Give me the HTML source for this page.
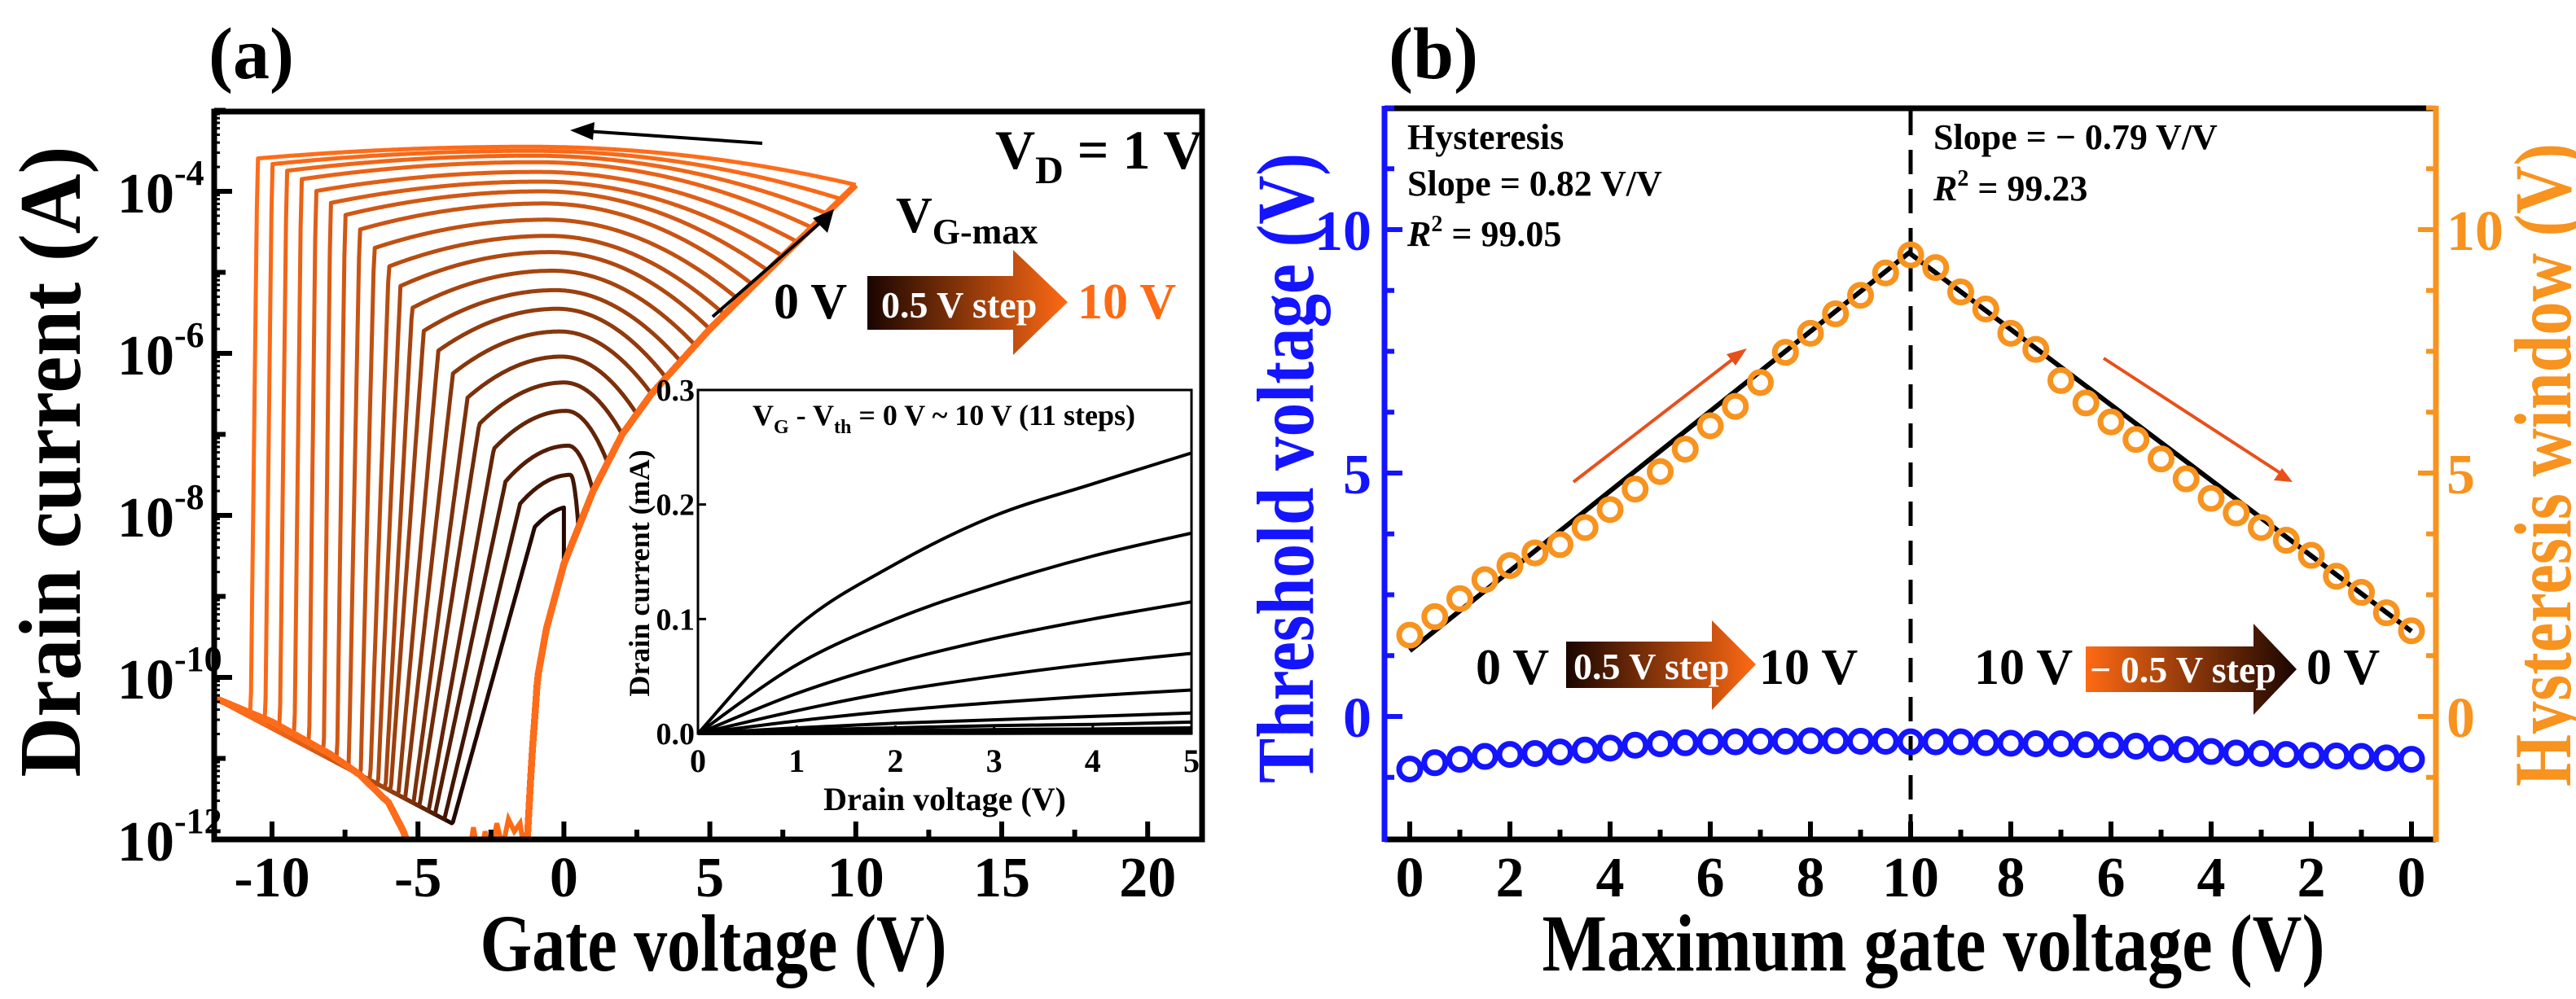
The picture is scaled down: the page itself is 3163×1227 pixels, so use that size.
<!DOCTYPE html>
<html><head><meta charset="utf-8"><style>
html,body{margin:0;padding:0;background:#fff;}
svg{display:block;font-family:"Liberation Serif",serif;font-weight:bold;}
</style></head><body>
<svg id="fig" width="3163" height="1227" viewBox="0 0 3163 1227" xmlns="http://www.w3.org/2000/svg">
<defs>
<clipPath id="clipA"><rect x="263" y="137" width="1213" height="894"/></clipPath>
<linearGradient id="gradUp" x1="0" x2="1" y1="0" y2="0"><stop offset="0" stop-color="#1a0500"/><stop offset="1" stop-color="#ff6a14"/></linearGradient>
<linearGradient id="gradDown" x1="0" x2="1" y1="0" y2="0"><stop offset="0" stop-color="#ff6a14"/><stop offset="1" stop-color="#1a0500"/></linearGradient>
</defs>
<rect width="3163" height="1227" fill="#fff"/>

<text x="256" y="96" font-size="90">(a)</text>
<text x="1705" y="96" font-size="90">(b)</text>

<text transform="translate(98,567) rotate(-90)" text-anchor="middle" font-size="108" textLength="775" lengthAdjust="spacingAndGlyphs">Drain current (A)</text>
<text x="876" y="1192" text-anchor="middle" font-size="100" textLength="573" lengthAdjust="spacingAndGlyphs">Gate voltage (V)</text>

<g id="panelA">
<g id="curvesA" clip-path="url(#clipA)"></g>
<rect x="263" y="137" width="1213" height="894" fill="none" stroke="#000" stroke-width="7"/>
<g id="ticksA"></g>
</g>

<text x="1222" y="207" font-size="68">V<tspan font-size="48" dy="18">D</tspan><tspan dy="-18"> = 1 V</tspan></text>
<line x1="936" y1="176" x2="720" y2="161" stroke="#000" stroke-width="4"/>
<polygon points="700,160 730,150 728,172" fill="#000"/>
<line x1="875" y1="389" x2="1010" y2="271" stroke="#000" stroke-width="4"/>
<polygon points="1024,257 1016,286 998,268" fill="#000"/>
<text x="1100" y="285" font-size="62">V<tspan font-size="44" dy="14">G-max</tspan></text>
<text x="950" y="391" font-size="62">0 V</text>
<polygon points="1065,339 1244,339 1244,307 1311,371 1244,436 1244,405 1065,405" fill="url(#gradUp)"/>
<text x="1082" y="390" font-size="46" fill="#fff">0.5 V step</text>
<text x="1323" y="391" font-size="62" fill="#ff6a14">10 V</text>

<g id="inset">
<rect x="857" y="479" width="606" height="422" fill="#fff" stroke="#000" stroke-width="3"/>
<g id="insetCurves"></g>
<g id="insetTicks"></g>
<text x="924" y="522" font-size="36">V<tspan font-size="24" dy="10">G</tspan><tspan dy="-10"> - V</tspan><tspan font-size="24" dy="10">th</tspan><tspan dy="-10"> = 0 V ~ 10 V (11 steps)</tspan></text>
<text x="1160" y="995" text-anchor="middle" font-size="40">Drain voltage (V)</text>
<text transform="translate(797,704) rotate(-90)" text-anchor="middle" font-size="36">Drain current (mA)</text>
</g>

<text transform="translate(1612,575) rotate(-90)" text-anchor="middle" font-size="100" fill="#1414ff" textLength="774" lengthAdjust="spacingAndGlyphs">Threshold voltage (V)</text>
<text transform="translate(3156,571) rotate(-90)" text-anchor="middle" font-size="100" fill="#f7931e" textLength="790" lengthAdjust="spacingAndGlyphs">Hysteresis window (V)</text>
<text x="2374" y="1192" text-anchor="middle" font-size="100" textLength="961" lengthAdjust="spacingAndGlyphs">Maximum gate voltage (V)</text>

<g id="panelB">
<g id="marksB"></g>
<line x1="1700" y1="133" x2="2991" y2="133" stroke="#000" stroke-width="7"/>
<line x1="1700" y1="1031" x2="2991" y2="1031" stroke="#000" stroke-width="7"/>
<line x1="1700" y1="130" x2="1700" y2="1034" stroke="#1414ff" stroke-width="7"/>
<line x1="2991" y1="130" x2="2991" y2="1034" stroke="#f7931e" stroke-width="7"/>
<g id="ticksB"></g>
</g>

<text x="1728" y="183" font-size="44">Hysteresis</text>
<text x="1728" y="240" font-size="44">Slope = 0.82 V/V</text>
<text x="1728" y="302" font-size="44"><tspan font-style="italic">R</tspan><tspan font-size="28" dy="-18">2</tspan><tspan dy="18"> = 99.05</tspan></text>
<text x="2374" y="183" font-size="44">Slope = − 0.79 V/V</text>
<text x="2374" y="246" font-size="44"><tspan font-style="italic">R</tspan><tspan font-size="28" dy="-18">2</tspan><tspan dy="18"> = 99.23</tspan></text>

<line x1="1932" y1="592" x2="2133" y2="437" stroke="#e8501a" stroke-width="4"/>
<polygon points="2145,428 2131,449 2120,435" fill="#e8501a"/>
<line x1="2583" y1="440" x2="2803" y2="583" stroke="#e8501a" stroke-width="4"/>
<polygon points="2815,592 2792,590 2802,575" fill="#e8501a"/>

<text x="1812" y="840" font-size="62">0 V</text>
<polygon points="1923,788 2102,788 2102,762 2156,816 2102,872 2102,845 1923,845" fill="url(#gradUp)"/>
<text x="1932" y="834" font-size="46" fill="#fff">0.5 V step</text>
<text x="2160" y="840" font-size="62">10 V</text>
<text x="2424" y="840" font-size="62">10 V</text>
<polygon points="2561,794 2767,794 2767,766 2820,822 2767,878 2767,850 2561,850" fill="url(#gradDown)"/>
<text x="2566" y="838" font-size="46" fill="#fff">− 0.5 V step</text>
<text x="2832" y="840" font-size="62">0 V</text>
</svg>

<script>
// ---------- Panel (a) data ----------
const vgMax = [0,0.5,1,1.5,2,2.5,3,3.5,4,4.5,5,5.5,6,6.5,7,7.5,8,8.5,9,9.5,10];
const peakLog = [-7.89,-7.5,-7.14,-6.71,-6.36,-6.04,-5.73,-5.45,-5.22,-4.98,-4.75,-4.55,-4.35,-4.15,-4.0,-3.88,-3.76,-3.64,-3.56,-3.5,-3.45];
const dropV = [-1.0,-1.5,-2.0,-2.4,-2.9,-3.3,-3.8,-4.3,-4.8,-5.2,-5.6,-6.0,-6.5,-7.0,-7.5,-8.0,-8.5,-9.0,-9.5,-10.0,-10.5];
const dropSlope = [1.3,1.5,1.7,2.0,2.3,2.7,3.2,4,5,6.5,8,10,14,18,25,30,30,30,30,30,30];
const fwdV   = [-12,-10,-8,-7,-6,-5.5,-5.1,-1.3,-1.1,-0.9,-0.6,0,1,2,3,5,7.5,10];
const fwdLog = [-10.25,-10.55,-10.95,-11.2,-11.55,-11.9,-12.3,-12.3,-11,-10,-9.4,-8.6,-7.7,-7.0,-6.5,-5.7,-4.8,-3.92];
const noiseV   = [-3.3,-3.1,-2.9,-2.7,-2.5,-2.3,-2.1,-1.9,-1.7,-1.5,-1.3];
const noiseLog = [-12.3,-11.85,-12.3,-11.9,-12.2,-11.8,-12.1,-11.75,-11.9,-11.8,-12.3];
const xTicksA = [-10,-5,0,5,10,15,20];
const yTicksA = [-4,-6,-8,-10,-12];
const insetVd = [0,1,2,3,4,5];
const insetId = [
 [0,0.093,0.148,0.19,0.218,0.245],
 [0,0.06,0.10,0.13,0.155,0.175],
 [0,0.035,0.062,0.083,0.10,0.115],
 [0,0.02,0.037,0.050,0.061,0.07],
 [0,0.011,0.02,0.027,0.033,0.038],
 [0,0.005,0.009,0.012,0.015,0.018],
 [0,0.003,0.005,0.007,0.008,0.01],
 [0,0.0015,0.0025,0.0035,0.004,0.005],
 [0,0.0008,0.0013,0.0017,0.002,0.0024],
 [0,0.0003,0.0005,0.0007,0.0009,0.001],
 [0,0.0001,0.0002,0.0002,0.0003,0.0003]
];
const insetXTicks = [0,1,2,3,4,5];
const insetYTicks = [0,0.1,0.2,0.3];
// ---------- Panel (b) data ----------
const xLabelsB = ["0","2","4","6","8","10","8","6","4","2","0"];
const hysteresis = [1.67,2.05,2.42,2.81,3.1,3.36,3.53,3.88,4.25,4.67,5.03,5.49,5.97,6.37,6.86,7.48,7.87,8.27,8.65,9.11,9.48,
  9.22,8.72,8.37,7.87,7.54,6.9,6.44,6.05,5.69,5.29,4.88,4.48,4.18,3.88,3.62,3.31,2.88,2.55,2.13,1.76];
const threshold = [-1.08,-0.95,-0.88,-0.82,-0.78,-0.76,-0.73,-0.69,-0.65,-0.59,-0.56,-0.54,-0.52,-0.52,-0.51,-0.51,-0.5,-0.5,-0.51,-0.51,-0.52,
  -0.52,-0.52,-0.54,-0.55,-0.56,-0.56,-0.58,-0.59,-0.61,-0.65,-0.68,-0.72,-0.75,-0.76,-0.78,-0.8,-0.81,-0.82,-0.85,-0.88];
const fitUp = [0,1.35,20,9.55];
const fitDown = [20,9.5,40,1.75];
const yTicksB = [0,5,10];

const NS = "http://www.w3.org/2000/svg";
function mk(tag, attrs, parent){ const e=document.createElementNS(NS,tag); for(const k in attrs) e.setAttribute(k,attrs[k]); parent.appendChild(e); return e; }

const xA = v => 334 + (v+10)*35.84;
const yA = lg => 235 - (lg+4)*99.5;
const xI = v => 857 + v*121.2;
const yI = v => 901 - v*1406.7;
const xB = i => 1731 + i*30.75;
const yB = v => 880 - v*59.8;

function interp(xs, ys, x){
  if(x<=xs[0]) return ys[0];
  for(let j=1;j<xs.length;j++){ if(x<=xs[j]){ const t=(x-xs[j-1])/(xs[j]-xs[j-1]); return ys[j-1]+t*(ys[j]-ys[j-1]); } }
  return ys[ys.length-1];
}
function color(i){
  const t=Math.pow(i/20,0.65); const r=Math.round(35+t*(255-35)), g=Math.round(8+t*(108-8)), b=Math.round(0+t*(25));
  return `rgb(${r},${g},${b})`;
}

const gA = document.getElementById('curvesA');
for(let i=0;i<vgMax.length;i++){
  const k=vgMax[i], P=peakLog[i], Vd=dropV[i], S=dropSlope[i];
  const fk=interp(fwdV,fwdLog,k);
  const Vc=0.3-0.15*k, qL=0.15*Math.exp(-0.45*k);
  const dome = V => (V>=Vc && k>Vc) ? P+(fk-P)*Math.pow((V-Vc)/(k-Vc),2) : P-qL*(V-Vc)*(V-Vc);
  const floorL = V => -10.25-0.19*(V+12);
  let pts=[[xA(k),yA(fk)]];
  const dVd=dome(Vd);
  for(let V=k; V>=-12.001; V-=0.04){
    let val = V>=Vd ? dome(V) : dVd - S*(Vd-V);
    val=Math.max(val,floorL(V));
    pts.push([xA(V),yA(val)]);
  }
  const rev=mk('polyline',{points:pts.map(p=>p[0].toFixed(1)+','+p[1].toFixed(1)).join(' '),fill:'none',stroke:color(i),'stroke-width':5,'stroke-linejoin':'round'},gA);
  
  
}
const nz=mk('polyline',{points:noiseV.map((v,j)=>xA(v).toFixed(1)+','+yA(noiseLog[j]).toFixed(1)).join(' '),fill:'none',stroke:'#ff6a14','stroke-width':6},gA);


for(let i=0;i<vgMax.length;i++){
  const k=vgMax[i]; let pts=[];
  for(let V=-12; V<=k+0.001; V+=0.04){ pts.push([xA(V),yA(interp(fwdV,fwdLog,V))]); }
  const fw=mk('polyline',{points:pts.map(p=>p[0].toFixed(1)+','+p[1].toFixed(1)).join(' '),fill:'none',stroke:color(i),'stroke-width':8,'stroke-linejoin':'round'},gA);
  
  
}

const tA=document.getElementById('ticksA');
for(let v=-10; v<=20; v+=2.5){
  const major=(v%5===0);
  const tk=mk('line',{x1:xA(v),x2:xA(v),y1:1031,y2:1031-(major?22:12),stroke:'#000','stroke-width':6},tA);
  
  
}
xTicksA.forEach(v=>{
  const t=mk('text',{x:xA(v),y:1101,'text-anchor':'middle','font-size':70},tA); t.textContent=(v<0?'-':'')+Math.abs(v);
  
  
});
for(let lg=-12; lg<=-3; lg++){
  const tk=mk('line',{x1:263,x2:263+(lg%2===0?22:14),y1:yA(lg),y2:yA(lg),stroke:'#000','stroke-width':6},tA);
  
  
  for(const m of [2,3,4,5,6,7,8,9]){
    const yy=yA(lg+Math.log10(m)); if(yy<140) continue;
    const mt=mk('line',{x1:263,x2:270,y1:yy,y2:yy,stroke:'#000','stroke-width':3},tA);
    
    
  }
}
yTicksA.forEach(lg=>{
  const t=mk('text',{x:214,y:yA(lg)+26,'text-anchor':'end','font-size':70},tA); t.textContent='10';
  
  
  const s=mk('text',{x:214,y:yA(lg)-8,'text-anchor':'start','font-size':44},tA); s.textContent=String(lg);
  
  
});

function smoothPath(pts){
  let d=`M${pts[0][0]},${pts[0][1]}`;
  for(let i=0;i<pts.length-1;i++){
    const p0=pts[Math.max(0,i-1)],p1=pts[i],p2=pts[i+1],p3=pts[Math.min(pts.length-1,i+2)];
    const c1=[p1[0]+(p2[0]-p0[0])/6,p1[1]+(p2[1]-p0[1])/6], c2=[p2[0]-(p3[0]-p1[0])/6,p2[1]-(p3[1]-p1[1])/6];
    d+=` C${c1[0].toFixed(1)},${c1[1].toFixed(1)} ${c2[0].toFixed(1)},${c2[1].toFixed(1)} ${p2[0].toFixed(1)},${p2[1].toFixed(1)}`;
  }
  return d;
}
const gI=document.getElementById('insetCurves');
insetId.forEach(series=>{
  const p=mk('path',{d:smoothPath(insetVd.map((v,j)=>[xI(v),yI(series[j])])),fill:'none',stroke:'#000','stroke-width':4},gI);
  
  
});
const gIT=document.getElementById('insetTicks');
insetXTicks.forEach(v=>{
  const tk=mk('line',{x1:xI(v),x2:xI(v),y1:901,y2:891,stroke:'#000','stroke-width':3},gIT);
  
  
  const t=mk('text',{x:xI(v),y:948,'text-anchor':'middle','font-size':40},gIT); t.textContent=String(v);
  
  
});
insetYTicks.forEach(v=>{
  const tk=mk('line',{x1:857,x2:867,y1:yI(v),y2:yI(v),stroke:'#000','stroke-width':3},gIT);
  
  
  const t=mk('text',{x:853,y:yI(v)+13,'text-anchor':'end','font-size':38},gIT); t.textContent=v.toFixed(1);
  
  
});

const gB=document.getElementById('marksB');
const dl=mk('line',{x1:xB(20),x2:xB(20),y1:136,y2:1028,stroke:'#000','stroke-width':5,'stroke-dasharray':'30,18'},gB);


const f1=mk('line',{x1:xB(fitUp[0]),y1:yB(fitUp[1]),x2:xB(fitUp[2]),y2:yB(fitUp[3]),stroke:'#000','stroke-width':6},gB);


const f2=mk('line',{x1:xB(fitDown[0]),y1:yB(fitDown[1]),x2:xB(fitDown[2]),y2:yB(fitDown[3]),stroke:'#000','stroke-width':6},gB);


hysteresis.forEach((v,i)=>{
  const c=mk('circle',{cx:xB(i),cy:yB(v),r:13,fill:'none',stroke:'#f7931e','stroke-width':7},gB);
  
  
});
threshold.forEach((v,i)=>{
  const c=mk('circle',{cx:xB(i),cy:yB(v),r:13,fill:'none',stroke:'#1414ff','stroke-width':7},gB);
  
  
});
const gBT=document.getElementById('ticksB');
for(let i=0;i<=40;i+=2){
  const tk=mk('line',{x1:xB(i),x2:xB(i),y1:1031,y2:1031-(i%4===0?22:12),stroke:'#000','stroke-width':6},gBT);
  
  
}
xLabelsB.forEach((s,j)=>{
  const t=mk('text',{x:xB(j*4),y:1101,'text-anchor':'middle','font-size':70},gBT); t.textContent=s;
  
  
});
for(let v=-1.25; v<=12.5; v+=1.25){
  const major=Math.abs(v%5)<1e-6;
  const l=mk('line',{x1:1700,x2:1700+(major?22:12),y1:yB(v),y2:yB(v),stroke:'#1414ff','stroke-width':6},gBT);
  
  
  const r=mk('line',{x1:2991,x2:2991-(major?22:12),y1:yB(v),y2:yB(v),stroke:'#f7931e','stroke-width':6},gBT);
  
  
}
yTicksB.forEach(v=>{
  const t=mk('text',{x:1684,y:yB(v)+25,'text-anchor':'end','font-size':70,fill:'#1414ff'},gBT); t.textContent=String(v);
  
  
  const r=mk('text',{x:3004,y:yB(v)+25,'text-anchor':'start','font-size':70,fill:'#f7931e'},gBT); r.textContent=String(v);
  
  
});
</script>
</body></html>
